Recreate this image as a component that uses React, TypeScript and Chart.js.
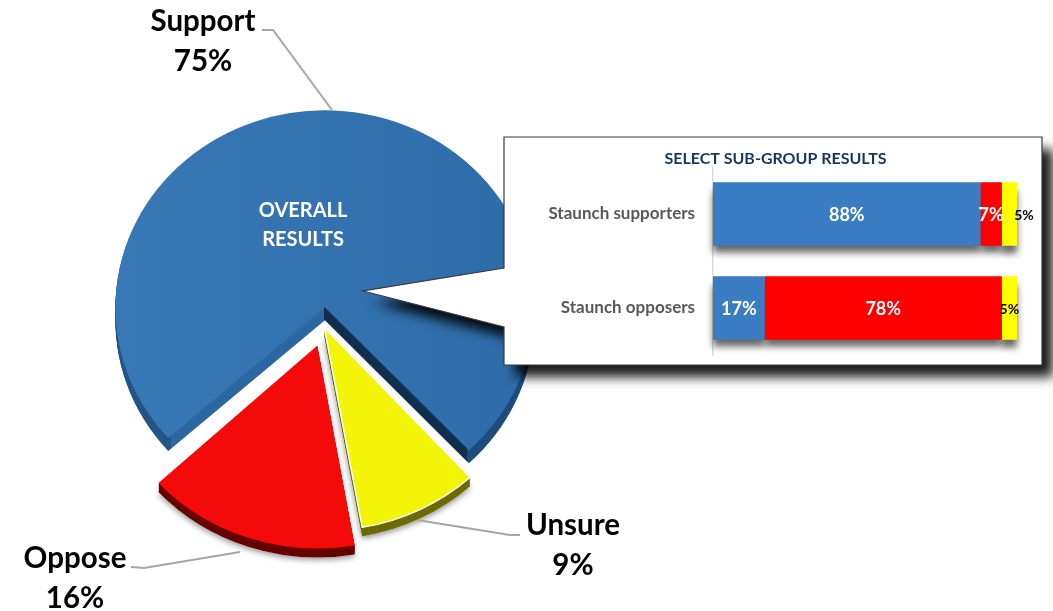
import React, { useEffect, useRef } from "react";
import { Chart, registerables } from "chart.js";

Chart.register(...registerables);

const pieCategories = ["Support", "Unsure", "Oppose"];
const pieValues = [75, 9, 16];
const pieDisplay = ["75%", "9%", "16%"];
const pieOffsets = [84, 2.5, 83];
const pieRadii = [209.5, 216, 216];
const pieBorders = [0, 1.5, 0];
const pieTopColors = ["#3476b4", "#f3f407", "#f40b09"];
const pieDepths = [13, 9, 9];

const subCategories = ["Staunch supporters", "Staunch opposers"];
const subSupport = [88, 17];
const subOppose = [7, 78];
const subUnsure = [5, 5];
const subColors = ["#3a7dc2", "#ff0000", "#ffff00"];

const FONT = "Lato, Carlito, 'Open Sans', sans-serif";
const Y_SCALE = 0.94;

const withOptions = (el: any, overrides: any, fn: () => void) => {
  const saved = el.options;
  el.options = Object.assign(Object.create(saved), overrides);
  fn();
  el.options = saved;
};

const piePlugin = {
  id: "pie3d",
  beforeDatasetsDraw(chart: any) {
    const ctx = chart.ctx;
    const arcs = chart.getDatasetMeta(0).data;
    // an arc widens its radius by offset/4 * fix when it draws: give each slice its own final radius
    arcs.forEach((el: any, i: number) => {
      const fix = 1 - Math.sin(Math.min(Math.PI, el.circumference));
      el.outerRadius = pieRadii[i] - (pieOffsets[i] / 4) * fix;
    });
    const cx = arcs[0].x;
    const cy = arcs[0].y;
    ctx.save();
    ctx.translate(cx, cy);
    ctx.scale(1, Y_SCALE);
    ctx.translate(-cx, -cy);

    const extrude = (el: any, depth: number, color: string) => {
      for (let d = depth; d >= 1; d--) {
        ctx.save();
        ctx.translate(0, d / Y_SCALE);
        withOptions(el, { backgroundColor: color, borderColor: color, borderWidth: 0 }, () => el.draw(ctx));
        ctx.restore();
      }
    };

    // soft shadow beneath the exploded slices
    [2, 1].forEach((i) => {
      ctx.save();
      ctx.shadowColor = "rgba(0,0,0,0.45)";
      ctx.shadowBlur = 6;
      ctx.shadowOffsetY = 2;
      ctx.translate(0, pieDepths[i] / Y_SCALE);
      withOptions(arcs[i], { backgroundColor: "#ffffff", borderWidth: 0 }, () => arcs[i].draw(ctx));
      ctx.restore();
    });

    // walls of the large slice: rim, left wall, right wall, rim
    const bands: [number, number, string][] = [
      [0, 171, "#235685"],
      [171, 324, "#2c68a1"],
      [324, 467, "#132f4f"],
      [467, 700, "#1f4d7c"],
    ];
    bands.forEach(([a, b, color]) => {
      ctx.save();
      ctx.beginPath();
      ctx.rect(a, 0, b - a, 1000);
      ctx.clip();
      extrude(arcs[0], pieDepths[0], color);
      ctx.restore();
    });
    extrude(arcs[1], pieDepths[1], "#6b6b00");
    extrude(arcs[2], pieDepths[2], "#650000");
  },
  afterDatasetsDraw(chart: any) {
    chart.ctx.restore();
  },
  afterDraw(chart: any) {
    const ctx = chart.ctx;
    // leader lines
    const leaders = [
      [[262, 30], [273, 30], [332, 110]],
      [[520, 535], [510, 535], [417, 520]],
      [[131, 567], [144, 568], [240, 552]],
    ];
    ctx.save();
    ctx.strokeStyle = "#a6a6a6";
    ctx.lineWidth = 2;
    leaders.forEach((pts) => {
      ctx.beginPath();
      pts.forEach(([x, y], i) => (i ? ctx.lineTo(x, y) : ctx.moveTo(x, y)));
      ctx.stroke();
    });
    // outer labels
    const labelPos = [
      [203, 21],
      [573, 525],
      [75, 558],
    ];
    ctx.fillStyle = "#000000";
    ctx.font = `bold 29.5px ${FONT}`;
    ctx.textAlign = "center";
    ctx.textBaseline = "middle";
    pieCategories.forEach((name, i) => {
      ctx.fillText(name, labelPos[i][0], labelPos[i][1]);
      ctx.fillText(pieDisplay[i], labelPos[i][0], labelPos[i][1] + 40);
    });
    // centre caption on the large slice
    ctx.fillStyle = "#ffffff";
    ctx.font = `bold 20px ${FONT}`;
    ctx.fillText("OVERALL", 303, 211);
    ctx.fillText("RESULTS", 303, 240);

    // call-out box with its pointer
    ctx.beginPath();
    ctx.moveTo(504, 137);
    ctx.lineTo(1042, 137);
    ctx.lineTo(1042, 365);
    ctx.lineTo(504, 365);
    ctx.lineTo(504, 327);
    ctx.lineTo(363, 291);
    ctx.lineTo(504, 268);
    ctx.closePath();
    ctx.save();
    ctx.shadowColor = "rgba(0,0,0,0.9)";
    ctx.shadowBlur = 12;
    ctx.shadowOffsetX = 11;
    ctx.shadowOffsetY = 12;
    ctx.fillStyle = "#ffffff";
    ctx.fill();
    ctx.restore();
    ctx.strokeStyle = "#3a3a3a";
    ctx.lineWidth = 1.2;
    ctx.stroke();
    ctx.restore();
  },
};

const barPlugin = {
  id: "barExtras",
  beforeDatasetsDraw(chart: any) {
    const ctx = chart.ctx;
    ctx.save();
    ctx.shadowColor = "rgba(0,0,0,0.6)";
    ctx.shadowBlur = 7;
    ctx.shadowOffsetY = 8;
    chart.data.datasets.forEach((_: any, i: number) => {
      chart.getDatasetMeta(i).data.forEach((bar: any) => bar.draw(ctx));
    });
    ctx.restore();
  },
  afterDatasetsDraw(chart: any) {
    const ctx = chart.ctx;
    ctx.save();
    ctx.textAlign = "center";
    ctx.textBaseline = "middle";
    chart.data.datasets.forEach((ds: any, i: number) => {
      chart.getDatasetMeta(i).data.forEach((bar: any, j: number) => {
        const cx = (bar.x + bar.base) / 2;
        const text = `${ds.data[j]}%`;
        if (i === 2) {
          ctx.fillStyle = "#000000";
          ctx.font = `bold 14px ${FONT}`;
          ctx.fillText(text, j === 0 ? bar.x + 7 : cx, bar.y + 1);
        } else {
          ctx.fillStyle = "#ffffff";
          ctx.font = `bold 18px ${FONT}`;
          ctx.fillText(text, cx, bar.y + 1);
        }
      });
    });
    ctx.restore();
  },
};

export default function App() {
  const pieRef = useRef<HTMLCanvasElement>(null);
  const barRef = useRef<HTMLCanvasElement>(null);

  useEffect(() => {
    document.body.style.margin = "0";
    const pieCtx = pieRef.current!.getContext("2d")!;
    const blue = pieCtx.createLinearGradient(115, 0, 533, 0);
    blue.addColorStop(0, "#3878b6");
    blue.addColorStop(1, "#2e6ca9");
    const pie = new Chart(pieCtx, {
      type: "pie",
      data: {
        labels: pieCategories,
        datasets: [
          {
            data: pieValues,
            backgroundColor: [blue, pieTopColors[1], pieTopColors[2]],
            borderColor: "#ffffff",
            borderWidth: pieBorders,
            offset: pieOffsets,
            clip: false,
          } as any,
        ],
      },
      options: {
        responsive: false,
        animation: false,
        rotation: 227.5,
        radius: 211,
        layout: { padding: { right: 405, top: 43 } },
        plugins: { legend: { display: false }, tooltip: { enabled: false } },
      } as any,
      plugins: [piePlugin],
    });

    const bar = new Chart(barRef.current!, {
      type: "bar",
      data: {
        labels: subCategories,
        datasets: [
          { label: "Support", data: subSupport, backgroundColor: subColors[0] },
          { label: "Oppose", data: subOppose, backgroundColor: subColors[1] },
          { label: "Unsure", data: subUnsure, backgroundColor: subColors[2] },
        ],
      },
      options: {
        indexAxis: "y",
        responsive: false,
        animation: false,
        datasets: { bar: { categoryPercentage: 1, barPercentage: 0.67 } },
        layout: { padding: { right: 25, bottom: 32, top: 30 } },
        scales: {
          x: { stacked: true, min: 0, max: 100, display: false },
          y: {
            stacked: true,
            afterFit: (s: any) => {
              s.width = 209;
            },
            grid: { display: false },
            border: { display: true, color: "#d9d9d9", width: 1.5 },
            ticks: { color: "#595959", font: { family: FONT, size: 17, weight: "bold" }, padding: 10 },
          },
        },
        plugins: {
          legend: { display: false },
          tooltip: { enabled: false },
          title: { display: false },
        },
      } as any,
      plugins: [
        barPlugin,
        {
          id: "subTitle",
          afterDraw(chart: any) {
            const ctx = chart.ctx;
            ctx.save();
            ctx.fillStyle = "#17375e";
            ctx.font = `bold 16px ${FONT}`;
            ctx.textAlign = "center";
            ctx.textBaseline = "middle";
            ctx.fillText("SELECT SUB-GROUP RESULTS", 271.5, 22);
            ctx.restore();
          },
        },
      ],
    });
    return () => {
      pie.destroy();
      bar.destroy();
    };
  }, []);

  return (
    <div style={{ position: "absolute", left: 0, top: 0, width: 1053, height: 611, overflow: "hidden", background: "#ffffff" }}>
      <canvas ref={pieRef} width={1053} height={611} style={{ position: "absolute", left: 0, top: 0 }} />
      <canvas ref={barRef} width={538} height={250} style={{ position: "absolute", left: 504, top: 137 }} />
    </div>
  );
}
